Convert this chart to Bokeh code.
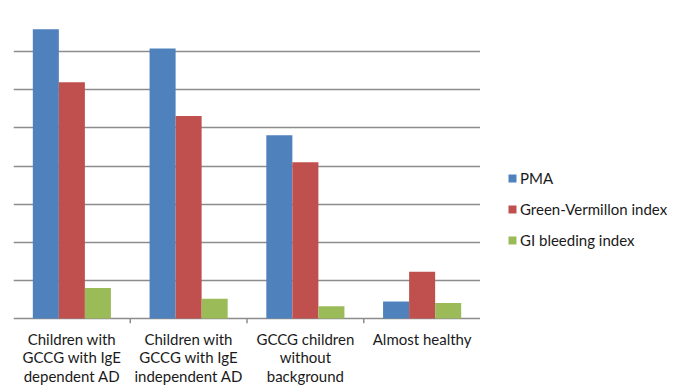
from bokeh.plotting import figure
from bokeh.layouts import row
from bokeh.models import (ColumnDataSource, FactorRange, Range1d,
                          SingleIntervalTicker, Legend, LegendItem)
from bokeh.transform import dodge
from bokeh.embed import file_html
from bokeh.resources import INLINE

# Groups of children (drawn as multi-line labels) and the three measured indices
groups = ["Children with\nGCCG with IgE\ndependent AD",
          "Children with\nGCCG with IgE\nindependent AD",
          "GCCG children\nwithout\nbackground",
          "Almost healthy"]
series_names = ["PMA", "Green-Vermillon index", "GI bleeding index"]
pma = [75.9, 70.8, 48.1, 4.5]
green_vermillon = [62.0, 53.1, 41.0, 12.3]
gi_bleeding = [8.0, 5.2, 3.2, 4.1]
colors = ["#4F81BD", "#C0504D", "#9BBB59"]

FONT = "Lato"
TEXT = "#1a1a1a"
GRID = "#8c8c8c"
TICK_DEPTH = -1.3   # room below zero for the short boundary ticks

source = ColumnDataSource(dict(group=groups, pma=pma, gv=green_vermillon, gi=gi_bleeding))
edges = ColumnDataSource(dict(group=groups[:-1]))

# ---- bar chart ----
p = figure(width=480, height=387, x_range=FactorRange(*groups, range_padding=0),
           y_range=Range1d(TICK_DEPTH, 80),
           output_backend="svg", toolbar_location=None,
           min_border_left=13, min_border_right=0, min_border_top=13, min_border_bottom=64)

bw = 0.223
for col, off, color in zip(["pma", "gv", "gi"], [-bw, 0.0, bw], colors):
    p.vbar(x=dodge("group", off, range=p.x_range), top=col, width=bw, bottom=0,
           source=source, fill_color=color, line_color=None)

# Short tick marks on the boundaries between groups, below the zero line
p.segment(x0=dodge("group", 0.5, range=p.x_range), y0=0,
          x1=dodge("group", 0.5, range=p.x_range), y1=TICK_DEPTH,
          source=edges, line_color=GRID, line_width=1.5)

# Horizontal gridlines (the one at zero doubles as the baseline)
p.xgrid.visible = False
p.ygrid.ticker = SingleIntervalTicker(interval=10)
p.ygrid.grid_line_color = GRID
p.ygrid.grid_line_width = 1.5
p.yaxis.visible = False
p.outline_line_color = None

ax = p.xaxis[0]
ax.axis_line_color = None
ax.major_tick_line_color = None
ax.major_tick_out = 0
ax.major_tick_in = 0
ax.major_label_standoff = 6
ax.major_label_text_font = FONT
ax.major_label_text_font_size = "15px"
ax.major_label_text_line_height = 1.03
ax.major_label_text_color = TEXT

# ---- legend panel on the right ----
q = figure(width=193, height=387, x_range=FactorRange(*series_names), y_range=Range1d(0, 1),
           output_backend="svg", toolbar_location=None, min_border=0)
q.axis.visible = False
q.grid.visible = False
q.outline_line_color = None

# zero-height bars: they carry the series colours for the legend keys only
keys_src = ColumnDataSource(dict(name=series_names, color=colors))
keys_r = q.vbar(x="name", top=0, bottom=0, width=0.5, source=keys_src,
                fill_color="color", line_color=None)
items = [LegendItem(label=n, renderers=[keys_r], index=i) for i, n in enumerate(series_names)]

legend = Legend(items=items, location=(27, 73))
legend.glyph_width = 10
legend.glyph_height = 10
legend.label_height = 20
legend.spacing = 11
legend.label_standoff = 3
legend.padding = 0
legend.margin = 0
legend.border_line_color = None
legend.background_fill_alpha = 0
legend.label_text_font = FONT
legend.label_text_font_size = "15px"
legend.label_text_color = TEXT
q.add_layout(legend, "center")

layout = row(p, q, spacing=0)
open("out.html", "w").write(file_html(layout, INLINE))
